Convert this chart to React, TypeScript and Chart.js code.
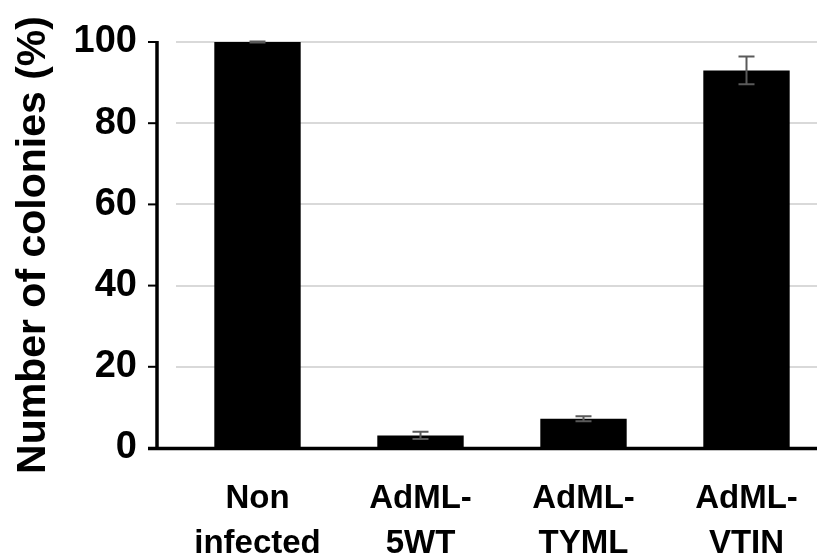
import React, { useEffect, useRef } from "react";
import { Chart, registerables } from "chart.js";

Chart.register(...registerables);

const categories: string[][] = [
  ["Non", "infected"],
  ["AdML-", "5WT"],
  ["AdML-", "TYML"],
  ["AdML-", "VTIN"],
];
const colonyValues: number[] = [100, 3.1, 7.2, 93];
const colonyErrors: number[] = [0.15, 0.9, 0.6, 3.4];
const yTicks: number[] = [0, 20, 40, 60, 80, 100];
const yTitle = "Number of colonies (%)";

const FONT = "'Liberation Sans', Arial, Helvetica, sans-serif";

const axesPlugin = {
  id: "customAxes",
  afterDatasetsDraw(chart: any) {
    const { ctx, chartArea, scales } = chart;
    const y = scales.y;
    const axisX = chartArea.left - 19;
    ctx.save();
    ctx.strokeStyle = "#000";
    ctx.lineWidth = 3.5;
    ctx.beginPath();
    ctx.moveTo(axisX, chartArea.top - 1);
    ctx.lineTo(axisX, chartArea.bottom);
    ctx.stroke();
    ctx.lineWidth = 2;
    yTicks.forEach((t) => {
      const py = y.getPixelForValue(t);
      ctx.beginPath();
      ctx.moveTo(axisX - 9, py);
      ctx.lineTo(axisX, py);
      ctx.stroke();
    });
    ctx.lineWidth = 3.5;
    ctx.beginPath();
    ctx.moveTo(axisX - 9, chartArea.bottom + 0.5);
    ctx.lineTo(chart.width, chartArea.bottom + 0.5);
    ctx.stroke();
    const meta = chart.getDatasetMeta(0);
    ctx.strokeStyle = "#5a5a5a";
    ctx.lineWidth = 2;
    meta.data.forEach((bar: any, i: number) => {
      const v = colonyValues[i];
      const e = colonyErrors[i];
      const top = y.getPixelForValue(v + e);
      const bot = y.getPixelForValue(v - e);
      const x = bar.x;
      ctx.beginPath();
      ctx.moveTo(x, top);
      ctx.lineTo(x, bot);
      ctx.moveTo(x - 8, top);
      ctx.lineTo(x + 8, top);
      ctx.moveTo(x - 8, bot);
      ctx.lineTo(x + 8, bot);
      ctx.stroke();
    });
    ctx.restore();
  },
};

export default function App() {
  const canvasRef = useRef<HTMLCanvasElement | null>(null);

  useEffect(() => {
    const canvas = canvasRef.current;
    if (!canvas) return;
    const chart = new Chart(canvas, {
      type: "bar",
      data: {
        labels: categories,
        datasets: [
          {
            data: colonyValues,
            backgroundColor: "#000000",
            borderWidth: 0,
            categoryPercentage: 1,
            barPercentage: 0.53,
          },
        ],
      },
      options: {
        animation: false,
        responsive: false,
        devicePixelRatio: 1,
        layout: { padding: { top: 42, right: 12, bottom: 0, left: 0 } },
        plugins: {
          legend: { display: false },
          tooltip: { enabled: false },
        },
        scales: {
          x: {
            grid: { display: false },
            border: { display: false },
            ticks: {
              color: "#000",
              padding: 20,
              maxRotation: 0,
              autoSkip: false,
              font: { family: FONT, size: 33, weight: "bold", lineHeight: 1.37 },
            },
            afterFit(scale: any) {
              scale.height = 112;
              scale.paddingLeft = 0;
              scale.paddingRight = 0;
            },
          },
          y: {
            min: 0,
            max: 100,
            border: { display: false },
            grid: {
              color: (c: any) => (c.tick && c.tick.value === 0 ? "rgba(0,0,0,0)" : "#d9d9d9"),
              lineWidth: 2,
              drawTicks: false,
            },
            afterBuildTicks(scale: any) {
              scale.ticks = yTicks.map((v) => ({ value: v }));
            },
            ticks: {
              color: "#000",
              padding: 39,
              font: { family: FONT, size: 38, weight: "bold" },
            },
            title: {
              display: true,
              text: yTitle,
              color: "#000",
              padding: { top: 9, bottom: 0 },
              font: { family: FONT, size: 41, weight: "bold", lineHeight: 1.2 },
            },
            afterFit(scale: any) {
              scale.width = 176;
              scale.paddingTop = 0;
              scale.paddingBottom = 0;
            },
          },
        },
      },
      plugins: [axesPlugin],
    });
    return () => chart.destroy();
  }, []);

  return (
    <div
      style={{
        position: "fixed",
        left: 0,
        top: 0,
        width: 817,
        height: 560,
        overflow: "hidden",
        background: "#fff",
      }}
    >
      <canvas ref={canvasRef} width={840} height={560} style={{ display: "block" }} />
    </div>
  );
}
